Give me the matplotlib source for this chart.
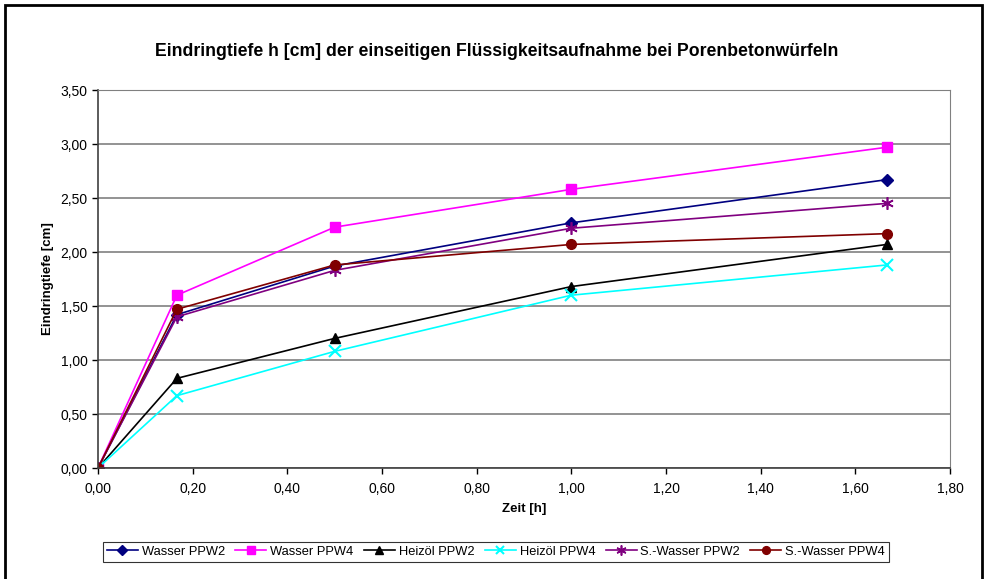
import matplotlib
matplotlib.use("Agg")
import matplotlib.pyplot as plt
from matplotlib.patches import Rectangle
from matplotlib.ticker import FuncFormatter, MultipleLocator

plt.rcParams['font.family'] = ['Liberation Sans', 'DejaVu Sans']

zeit = [0.0, 1 / 6, 0.5, 1.0, 5 / 3]

series = [
    ("Wasser PPW2", [0.0, 1.42, 1.87, 2.27, 2.67]),
    ("Wasser PPW4", [0.0, 1.60, 2.23, 2.58, 2.97]),
    ("Heizöl PPW2", [0.0, 0.83, 1.20, 1.68, 2.07]),
    ("Heizöl PPW4", [0.0, 0.67, 1.08, 1.60, 1.88]),
    ("S.-Wasser PPW2", [0.0, 1.40, 1.83, 2.22, 2.45]),
    ("S.-Wasser PPW4", [0.0, 1.47, 1.88, 2.07, 2.17]),
]

styles = [
    dict(color="#000080", marker="D", ms=6),
    dict(color="#FF00FF", marker="s", ms=7),
    dict(color="#000000", marker="^", ms=7),
    dict(color="#00FFFF", marker="x", ms=8, mew=1.5),
    dict(color="#800080", marker=(6, 2, 0), ms=9, mew=1.2),
    dict(color="#800000", marker="o", ms=7),
]

W, H = 984, 579
fig = plt.figure(figsize=(W / 100, H / 100), dpi=100)

# outer chart border
fig.patches.append(Rectangle((5 / W, -0.01), (977 / W), 1 - 5 / H + 0.01,
                             transform=fig.transFigure, fill=False,
                             edgecolor="black", linewidth=2))

ax = fig.add_axes([98 / W, 1 - 468 / H, (950 - 98) / W, (468 - 90) / H])

for (name, vals), st in zip(series, styles):
    ax.plot(zeit, vals, label=name, linewidth=1.2, **st)

ax.set_xlim(0, 1.8)
ax.set_ylim(0, 3.5)
ax.xaxis.set_major_locator(MultipleLocator(0.2))
ax.yaxis.set_major_locator(MultipleLocator(0.5))
fmt = FuncFormatter(lambda v, p: f"{v:.2f}".replace(".", ","))
ax.xaxis.set_major_formatter(fmt)
ax.yaxis.set_major_formatter(fmt)
ax.tick_params(direction="out", length=4, width=1, labelsize=10, colors="black")
ax.tick_params(axis="x", pad=6)

ax.grid(axis="y", color="#808080", linewidth=1.2)
ax.set_axisbelow(True)
for s in ["top", "right"]:
    ax.spines[s].set_color("#808080")
for s in ["left", "bottom"]:
    ax.spines[s].set_color("#404040")
    ax.spines[s].set_linewidth(1.2)

ax.set_xlabel("Zeit [h]", fontsize=9.5, fontweight="bold", labelpad=5)
ax.set_ylabel("Eindringtiefe [cm]", fontsize=9.5, fontweight="bold", labelpad=5)

fig.text(497 / W, 1 - 52 / H,
         "Eindringtiefe h [cm] der einseitigen Flüssigkeitsaufnahme bei Porenbetonwürfeln",
         ha="center", va="center", fontsize=12.7, fontweight="bold")

leg = fig.legend(loc="center", bbox_to_anchor=(496 / W, 1 - 552 / H), ncol=6,
                 fontsize=9.3, frameon=True, fancybox=False, edgecolor="black",
                 handlelength=2.4, handletextpad=0.3, columnspacing=0.8,
                 borderpad=0.3, markerscale=0.8)
leg.get_frame().set_linewidth(0.8)

fig.savefig("out.png", dpi=100)
